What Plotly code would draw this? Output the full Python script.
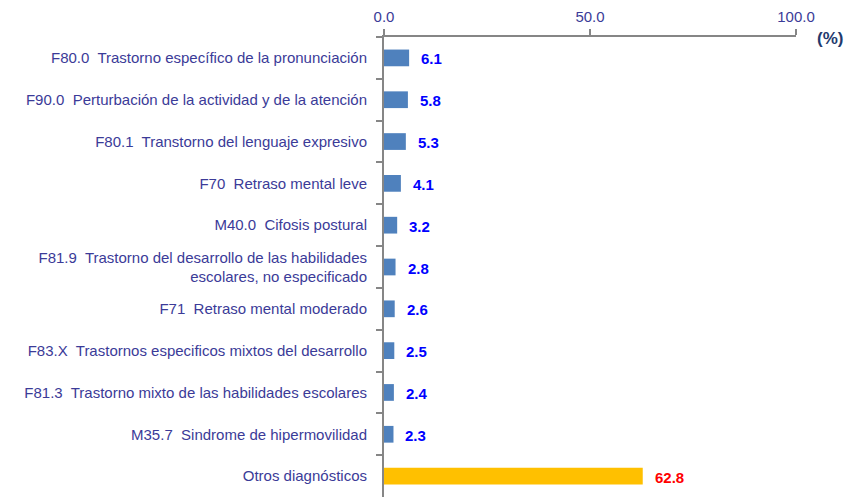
import plotly.graph_objects as go

categories = [
    "F80.0  Trastorno específico de la pronunciación",
    "F90.0  Perturbación de la actividad y de la atención",
    "F80.1  Transtorno del lenguaje expresivo",
    "F70  Retraso mental leve",
    "M40.0  Cifosis postural",
    "F81.9  Trastorno del desarrollo de las habilidades<br>escolares, no especificado",
    "F71  Retraso mental moderado",
    "F83.X  Trastornos especificos mixtos del desarrollo",
    "F81.3  Trastorno mixto de las habilidades escolares",
    "M35.7  Sindrome de hipermovilidad",
    "Otros diagnósticos",
]
values = [6.1, 5.8, 5.3, 4.1, 3.2, 2.8, 2.6, 2.5, 2.4, 2.3, 62.8]
bar_colors = ["#4F81BD"] * 10 + ["#FFC000"]
label_colors = ["#0000FF"] * 10 + ["#FF0000"]
x_ticks = [0, 50, 100]
x_tick_labels = ["0.0", "50.0", "100.0"]

FONT = "Liberation Sans"

fig = go.Figure(go.Bar(
    x=values, y=categories, orientation="h",
    marker=dict(color=bar_colors, line=dict(width=0)),
    width=0.4,
))

for v, c, col in zip(values, categories, label_colors):
    fig.add_annotation(
        x=v, y=c, text=f"<b>{v:.1f}</b>", showarrow=False,
        xanchor="left", xshift=10, yshift=-1,
        font=dict(family=FONT, size=15, color=col),
    )

fig.add_annotation(
    xref="paper", yref="paper", x=1.0, y=1.0, xshift=19, yshift=-1,
    text="<b>(%)</b>", showarrow=False, xanchor="left", yanchor="middle",
    font=dict(family=FONT, size=17, color="#1F3A6E"),
)

fig.update_layout(
    width=846, height=489,
    margin=dict(l=376, r=58, t=29, b=0),
    plot_bgcolor="white", paper_bgcolor="white",
    showlegend=False,
    font=dict(family=FONT, size=15, color="#3B3B98"),
    xaxis=dict(
        side="top", range=[0, 100], tickvals=x_ticks, ticktext=x_tick_labels,
        showgrid=False, zeroline=False, showline=True, linecolor="#868686",
        linewidth=2, ticks="outside", ticklen=6, tickcolor="#868686",
        tickwidth=1.5, automargin=False, ticklabelstandoff=1,
        tickfont=dict(family=FONT, size=15, color="#3B3B98"),
    ),
    yaxis=dict(
        autorange="reversed", showgrid=False, showline=True,
        linecolor="#868686", linewidth=2, ticks="outside", ticklen=6,
        tickcolor="#868686", tickwidth=1.5, tickson="boundaries",
        ticklabelstandoff=12, automargin=False,
        tickfont=dict(family=FONT, size=15, color="#3B3B98"),
    ),
)

fig.write_html("out.html")
